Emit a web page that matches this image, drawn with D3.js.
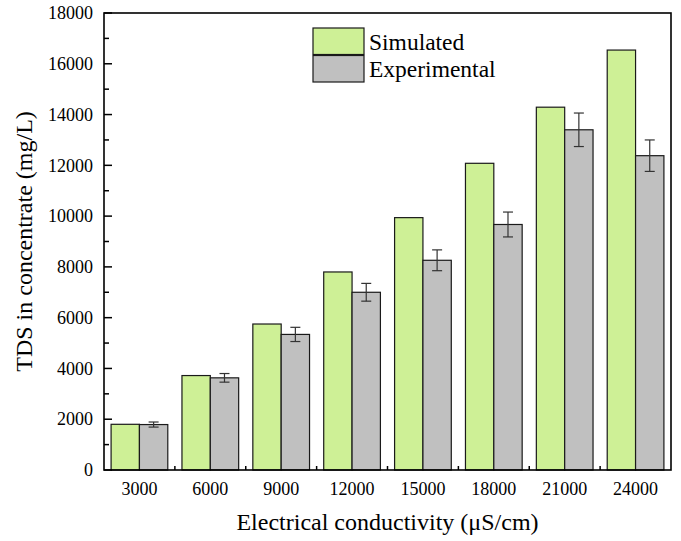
<!DOCTYPE html>
<html>
<head>
<meta charset="utf-8">
<script src="https://cdn.jsdelivr.net/npm/d3@7"></script>
<style>
  html, body { margin: 0; padding: 0; background: #fff; }
  svg { display: block; }
  text { font-family: "Liberation Serif", "Times New Roman", serif; fill: #000; }
</style>
</head>
<body>
<svg id="chart" width="681" height="541"></svg>
<script>
const categories = ["3000", "6000", "9000", "12000", "15000", "18000", "21000", "24000"];
const seriesNames = ["Simulated", "Experimental"];
const simulated = [1800, 3720, 5750, 7800, 9940, 12080, 14290, 16540];
const experimental = [1790, 3630, 5340, 7000, 8260, 9670, 13400, 12380];
const experimentalErr = [100, 170, 280, 350, 410, 490, 660, 620];
const yTicks = [0, 2000, 4000, 6000, 8000, 10000, 12000, 14000, 16000, 18000];
const colors = { Simulated: "#cef096", Experimental: "#c0c0c0" };

const W = 681, H = 541;
const m = { left: 104, right: 10, top: 13, bottom: 71 };
const pw = W - m.left - m.right, ph = H - m.top - m.bottom;
const serif = "Liberation Serif, Times New Roman, serif";

const svg = d3.select("#chart");
const g = svg.append("g").attr("transform", `translate(${m.left},${m.top})`);

const x0 = d3.scaleBand().domain(categories).range([0, pw]).paddingInner(0.2).paddingOuter(0.1);
const x1 = d3.scaleBand().domain(seriesNames).range([0, x0.bandwidth()]);
const y = d3.scaleLinear().domain([0, 18000]).range([ph, 0]);

const data = categories.map((c, i) => ({
  cat: c,
  vals: [
    { name: "Simulated", v: simulated[i] },
    { name: "Experimental", v: experimental[i], e: experimentalErr[i] }
  ]
}));

// bars
const grp = g.selectAll("g.grp").data(data).join("g")
  .attr("class", "grp")
  .attr("transform", d => `translate(${x0(d.cat)},0)`);
grp.selectAll("rect").data(d => d.vals).join("rect")
  .attr("x", d => x1(d.name))
  .attr("y", d => y(d.v))
  .attr("width", x1.bandwidth())
  .attr("height", d => ph - y(d.v))
  .attr("fill", d => colors[d.name])
  .attr("stroke", "#1a1a1a")
  .attr("stroke-width", 1.2);

// error bars
const eb = grp.selectAll("g.err").data(d => d.vals.filter(v => v.e != null)).join("g").attr("class", "err");
const cap = 5;
eb.append("line")
  .attr("x1", d => x1(d.name) + x1.bandwidth() / 2)
  .attr("x2", d => x1(d.name) + x1.bandwidth() / 2)
  .attr("y1", d => y(d.v + d.e)).attr("y2", d => y(d.v - d.e))
  .attr("stroke", "#333").attr("stroke-width", 1.2);
eb.append("line")
  .attr("x1", d => x1(d.name) + x1.bandwidth() / 2 - cap)
  .attr("x2", d => x1(d.name) + x1.bandwidth() / 2 + cap)
  .attr("y1", d => y(d.v + d.e)).attr("y2", d => y(d.v + d.e))
  .attr("stroke", "#333").attr("stroke-width", 1.2);
eb.append("line")
  .attr("x1", d => x1(d.name) + x1.bandwidth() / 2 - cap)
  .attr("x2", d => x1(d.name) + x1.bandwidth() / 2 + cap)
  .attr("y1", d => y(d.v - d.e)).attr("y2", d => y(d.v - d.e))
  .attr("stroke", "#333").attr("stroke-width", 1.2);

// y axis
const yAxis = d3.axisLeft(y).tickValues(yTicks).tickSize(0).tickPadding(11).tickFormat(d3.format("d"));
const ya = g.append("g").call(yAxis)
  .attr("font-family", serif).attr("font-size", 18);
ya.select(".domain").remove();
ya.selectAll("text").attr("font-family", serif).attr("font-size", 18).style("font-family", serif).style("font-size", "18px");
// major ticks inward
g.append("g").selectAll("line").data(yTicks).join("line")
  .attr("x1", 0).attr("x2", 8).attr("y1", d => y(d)).attr("y2", d => y(d))
  .attr("stroke", "#000").attr("stroke-width", 1.5);
// minor ticks
g.append("g").selectAll("line").data(d3.range(1000, 18000, 2000)).join("line")
  .attr("x1", 0).attr("x2", 5).attr("y1", d => y(d)).attr("y2", d => y(d))
  .attr("stroke", "#000").attr("stroke-width", 1.5);

// x axis
const xAxis = d3.axisBottom(x0).tickSize(0).tickPadding(12);
const xa = g.append("g").attr("transform", `translate(0,${ph})`).call(xAxis)
  .attr("font-family", serif).attr("font-size", 18);
xa.select(".domain").remove();
xa.selectAll("text").attr("font-family", serif).attr("font-size", 18).style("font-family", serif).style("font-size", "18px");
// ticks between groups
const boundaries = categories.slice(1).map(c => x0(c) - x0.step() * x0.paddingInner() / 2);
g.append("g").selectAll("line").data(boundaries).join("line")
  .attr("x1", d => d).attr("x2", d => d).attr("y1", ph).attr("y2", ph - 4)
  .attr("stroke", "#000").attr("stroke-width", 1.5);

// frame
g.append("rect").attr("x", 0).attr("y", 0).attr("width", pw).attr("height", ph)
  .attr("fill", "none").attr("stroke", "#000").attr("stroke-width", 1.6);

// axis titles
svg.append("text")
  .attr("transform", `translate(32,${m.top + ph / 2}) rotate(-90)`)
  .attr("text-anchor", "middle")
  .style("font-size", "24px")
  .text("TDS in concentrate (mg/L)");
svg.append("text")
  .attr("x", m.left + pw / 2).attr("y", 530)
  .attr("text-anchor", "middle")
  .style("font-size", "24px")
  .text("Electrical conductivity (μS/cm)");

// legend
const leg = svg.append("g").attr("transform", "translate(313,28)");
seriesNames.forEach((s, i) => {
  leg.append("rect").attr("x", 0).attr("y", i * 27.5).attr("width", 51).attr("height", 26.5)
    .attr("fill", colors[s]).attr("stroke", "#1a1a1a").attr("stroke-width", 1.2);
  leg.append("text").attr("x", 56).attr("y", i * 27.5 + 21.5)
    .style("font-size", "23.5px").text(s);
});
</script>
</body>
</html>
